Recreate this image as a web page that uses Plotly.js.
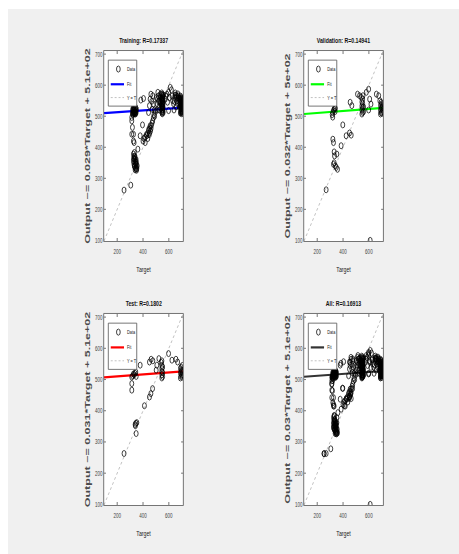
<!DOCTYPE html>
<html>
<head>
<meta charset="utf-8">
<script src="https://cdn.plot.ly/plotly-3.0.1.min.js"></script>
<style>
  html, body { margin:0; padding:0; background:#ffffff; width:459px; height:554px; overflow:hidden; }
  #plot { position:absolute; left:8px; top:9px; transform:scaleX(0.65); transform-origin:0 0; }
</style>
</head>
<body>
<div id="plot"></div>
<script>
// ---------- data ----------
const panelTitles = ["Training: R=0.17337", "Validation: R=0.14941", "Test: R=0.1802", "All: R=0.16913"];
const yLabels = ["Output ~= 0.029*Target + 5.1e+02", "Output ~= 0.032*Target + 5e+02",
                 "Output ~= 0.031*Target + 5.1e+02", "Output ~= 0.03*Target + 5.1e+02"];
const fitSlopes = [0.029, 0.032, 0.031, 0.030];
const fitIntercepts = [507, 504, 504, 506];
const fitColors = ["#0000ff", "#00ff00", "#ff0000", "#333333"];
const axisLimits = [98, 710];
const xTickVals = [200, 400, 600];
const yTickVals = [100, 200, 300, 400, 500, 600, 700];
const legendLabels = ["Data", "Fit", "Y = T"];

const trainTarget = [253,305,313,313,318,313,326,326,331,
  326,339,326,347,334,352,339,330,343,336,349,329,345,341,333,
  331,337,344,349,355,333,338,346,328,350,
  360,378,396,383,404,
  417,430,443,450,455,437,462,470,448,458,
  400,408,415,425,435,445,452,465,475,480,485,488,
  443,450,455,461,476,481,468,472,490,495,
  321,325,330,335,340,345,328,338,322,342,332,347,
  318,323,327,333,337,343,349,331,326,320,344,336,
  507,512,518,522,528,533,538,515,525,540,545,548,548,548,548,548,548,552,552,552,552,552,552,556,556,556,559,503,510,
  544,544,544,544,550,550,550,550,555,555,555,540,538,530,520,
  572,578,585,598,611,598,590,605,620,
  637,645,650,655,660,665,670,675,680,685,690,690,690,690,695,695,695,695,695,700,700,700,700,700,705,705,705,705,709,709,709,640,655,668,682,625,630,
  693,693,693,693,693,693,698,698,698,698,698,702,702,702,702,707,707,707,707,688,686,678,672,662,648,642];
const trainOutput = [262,278,496,485,464,442,442,420,415,
  378,367,356,345,338,331,327,362,352,372,338,347,360,333,383,
  370,360,345,352,340,340,350,330,365,326,
  394,437,472,552,557,
  415,437,453,446,469,428,460,478,440,452,
  420,428,432,440,445,458,462,470,485,495,505,520,
  512,534,555,571,566,539,548,522,500,515,
  507,512,508,515,510,520,522,526,518,507,530,512,
  510,505,516,520,508,516,522,512,526,522,528,512,
  540,555,565,530,548,570,560,577,520,540,575,510,520,530,540,550,560,515,525,535,545,555,565,512,528,548,568,560,520,
  515,535,555,570,508,530,550,570,520,540,560,525,545,558,548,
  555,565,571,577,593,518,545,560,585,
  540,560,575,568,560,550,572,565,555,545,510,530,550,565,515,525,535,545,555,508,520,532,544,556,510,522,535,548,515,528,540,520,530,540,528,565,550,
  512,522,532,542,552,562,517,527,537,547,557,512,525,538,550,515,528,540,553,540,558,548,558,565,568,548];

const valTarget = [269,
  321,326,331,336,341,316,320,338,
  321,326,331,352,334,326,331,347,357,340,
  398,385,424,450,463,455,468,
  512,528,541,554,
  546,546,546,546,552,552,552,552,559,559,
  580,598,606,616,598,610,
  658,676,690,690,690,695,695,695,700,700,700,705,705,709,709,685];
const valOutput = [263,
  512,518,522,526,525,505,497,515,
  426,415,385,378,372,345,350,335,329,340,
  472,405,437,446,439,545,534,
  571,566,561,566,
  507,520,533,546,512,527,541,555,515,530,
  577,587,555,539,520,100,
  571,566,507,520,535,512,528,545,510,525,540,515,530,520,535,550];

const testTarget = [253,347,339,345,352,341,
  411,450,461,474,
  313,313,
  313,320,326,332,338,344,347,
  378,450,463,476,523,507,502,
  546,546,546,546,546,546,552,552,552,540,
  598,624,668,655,
  690,690,690,695,695,695,700,700,705,705,705,709,709];
const testOutput = [263,327,356,360,362,352,
  416,444,455,471,
  466,487,
  508,512,518,515,520,524,510,
  546,556,565,560,567,546,530,
  505,515,525,535,545,560,510,522,540,555,
  583,562,556,565,
  505,520,535,510,525,540,515,530,508,522,545,515,530];

const allTarget = trainTarget.concat(valTarget, testTarget);
const allOutput = trainOutput.concat(valOutput, testOutput);
const sets = [[trainTarget, trainOutput], [valTarget, valOutput], [testTarget, testOutput], [allTarget, allOutput]];

// ---------- layout geometry ----------
const colDomains = [[0.2129, 0.3880], [0.6563, 0.8315]];
const rowDomains = [[0.5743, 0.9229], [0.0899, 0.4404]];
const FONT = "Liberation Sans, Arial, sans-serif";
const AXC = "#5a5a5a";

const traces = [];
const shapes = [];
const annotations = [];
const layout = {
  width: 694, height: 545,
  margin: {l:0, r:0, t:0, b:0},
  paper_bgcolor: "#f0f0f0",
  plot_bgcolor: "#ffffff",
  showlegend: false,
  font: {family: FONT, color: "#262626"}
};

for (let i = 0; i < 4; i++) {
  const sfx = i === 0 ? "" : String(i + 1);
  const xa = "x" + sfx, ya = "y" + sfx;
  const col = i % 2, row = Math.floor(i / 2);
  const common = {
    range: axisLimits.slice(),
    showline: true, linecolor: AXC, linewidth: 1, mirror: "ticks",
    ticks: "inside", ticklen: 3, tickcolor: AXC, tickwidth: 1,
    showgrid: false, zeroline: false,
    tickfont: {family: FONT, size: 7, color: "#444444"}
  };
  layout["xaxis" + sfx] = Object.assign({}, common, {
    domain: colDomains[col], anchor: ya, tickvals: xTickVals,
    ticklabelstandoff: 4,
    title: {text: "Target", font: {family: FONT, size: 8, color: "#222222"}, standoff: 12}
  });
  layout["yaxis" + sfx] = Object.assign({}, common, {
    domain: rowDomains[row], anchor: xa, tickvals: yTickVals,
    title: {text: yLabels[i], font: {family: FONT, size: 12.5, weight: "bold", color: "#4a4a4a"}, standoff: 3}
  });

  const lineX = axisLimits.slice();
  const fitY = lineX.map(t => fitSlopes[i] * t + fitIntercepts[i]);

  traces.push({x: lineX, y: lineX.slice(), xaxis: xa, yaxis: ya, mode: "lines",
    line: {color: "#b4b4b4", width: 1, dash: "dot"}, hoverinfo: "skip", name: legendLabels[2]});
  traces.push({x: lineX, y: fitY, xaxis: xa, yaxis: ya, mode: "lines",
    line: {color: fitColors[i], width: 2.2}, hoverinfo: "skip", name: legendLabels[1]});
  traces.push({x: sets[i][0], y: sets[i][1], xaxis: xa, yaxis: ya, mode: "markers",
    marker: {symbol: "circle-open", size: 6, color: "#000000", line: {width: 0.9, color: "#000000"}},
    name: legendLabels[0]});

  // subplot title
  annotations.push({text: panelTitles[i], xref: xa + " domain", yref: ya + " domain", x: 0.5, y: 1,
    xanchor: "center", yanchor: "bottom", yshift: 4, showarrow: false,
    font: {family: FONT, size: 8, weight: "bold", color: "#111111"}});

  // legend box drawn inside each axes
  const dx = xa + " domain", dy = ya + " domain";
  shapes.push({type: "rect", xref: dx, yref: dy, x0: 0.054, x1: 0.414, y0: 0.71, y1: 0.952,
    fillcolor: "#ffffff", line: {color: "#5a5a5a", width: 1}, layer: "above"});
  shapes.push({type: "circle", xref: dx, yref: dy, x0: 0.158, x1: 0.205, y0: 0.889, y1: 0.921,
    line: {color: "#000000", width: 0.9}, layer: "above"});
  shapes.push({type: "line", xref: dx, yref: dy, x0: 0.085, x1: 0.253, y0: 0.825, y1: 0.825,
    line: {color: fitColors[i], width: 2.2}, layer: "above"});
  shapes.push({type: "line", xref: dx, yref: dy, x0: 0.085, x1: 0.253, y0: 0.755, y1: 0.755,
    line: {color: "#b4b4b4", width: 1, dash: "dot"}, layer: "above"});
  const rowsY = [0.905, 0.825, 0.755];
  for (let k = 0; k < 3; k++) {
    annotations.push({text: legendLabels[k], xref: dx, yref: dy, x: 0.275, y: rowsY[k],
      xanchor: "left", yanchor: "middle", showarrow: false,
      font: {family: FONT, size: 6, color: "#222222"}});
  }
}
layout.shapes = shapes;
layout.annotations = annotations;

Plotly.newPlot("plot", traces, layout, {staticPlot: true, displayModeBar: false});
</script>
</body>
</html>
